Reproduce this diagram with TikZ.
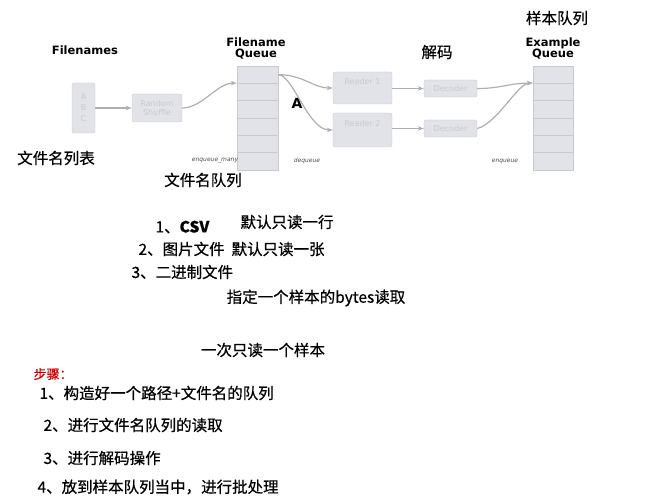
\documentclass[tikz,border=0pt]{standalone}
\usepackage{fontspec}
\setmainfont{DejaVu Sans}
\newfontfamily\cjk[FakeBold=0.6]{Noto Sans CJK SC}
\usetikzlibrary{positioning,arrows.meta}

\definecolor{boxfill}{RGB}{225,227,232}
\definecolor{boxline}{RGB}{200,202,208}
\definecolor{flow}{RGB}{175,175,175}

\begin{document}
\begin{tikzpicture}[x=1pt,y=-1pt,
    block/.style={rectangle, draw=boxline, fill=boxfill, rounded corners=2pt, text=boxline, font=\fontsize{8}{9}\selectfont, align=center, inner sep=0pt},
    cell/.style={rectangle, draw=boxline, fill=boxfill, minimum width=41pt, minimum height=17.3pt, inner sep=0pt},
    head/.style={font=\fontsize{11.5}{11}\bfseries\selectfont, align=center},
    tag/.style={font=\fontsize{6}{6}\itshape\selectfont, text=black!70},
    zh/.style={font=\fontsize{15.5}{16}\cjk\selectfont, anchor=west},
    flowline/.style={draw=flow, line width=1.2pt, -{Stealth[length=6pt]}}
]
\useasboundingbox (0,0) rectangle (645,500);

% Nodes
\node [block, minimum width=23pt, minimum height=50pt] (files) at (83.5,108) {A\\[2pt]B\\[2pt]C};
\node [block, minimum width=50pt, minimum height=28pt] (shuffle) at (157,108) {Random\\Shuffle};
\foreach \i in {1,...,6} {
  \node [cell] (fq\i) at (257.5,66+17.3*\i-8.65) {};
  \node [cell, minimum width=40pt] (eq\i) at (553,66+17.3*\i-8.65) {};
}
\node [block, minimum width=59pt, minimum height=32pt, text depth=14pt] (reader1) at (362.5,88) {Reader 1};
\node [block, minimum width=59pt, minimum height=34pt, text depth=14pt] (reader2) at (362.5,130) {Reader 2};
\node [block, minimum width=53pt, minimum height=17pt] (dec1) at (450.5,88.5) {Decoder};
\node [block, minimum width=53pt, minimum height=17pt] (dec2) at (450.5,128.5) {Decoder};

% Labels
\node [head] (lfiles) at (85,50) {Filenames};
\node [head] (lfq) at (256,48) {Filename\\Queue};
\node [head] (leq) at (553,48) {Example\\Queue};
\node [zh, anchor=center] (ldec) at (437,52) {解码};
\node [zh, anchor=center] (lsample) at (557,18) {样本队列};
\node [font=\fontsize{14}{14}\bfseries\selectfont] (la) at (297,103) {A};
\node [tag] (tmany) at (215,161) {enqueue\_many};
\node [tag] (tdeq) at (307,161) {dequeue};
\node [tag] (tenq) at (505,161) {enqueue};
\node [zh, anchor=center] (lfilelist) at (56,158) {文件名列表};
\node [zh, anchor=center] (lfilequeue) at (203,180) {文件名队列};

% Edges
\draw [flowline] (files.east) -- (shuffle.west);
\draw [flowline] (shuffle.east) .. controls +(20,0) and +(-20,0) .. (fq2.north west);
\draw [flowline] (fq1.east) .. controls +(25,0) and +(-20,0) .. (reader1.west);
\draw [flowline] (fq1.east) .. controls +(15,0) and +(-25,0) .. (reader2.west);
\draw [flowline] (reader1.east |- dec1) -- (dec1.west);
\draw [flowline] (reader2.east |- dec2) -- (dec2.west);
\draw [flowline] (dec1.east) .. controls +(25,0) and +(-25,0) .. (eq2.north west);
\draw [flowline] (dec2.east) .. controls +(20,-5) and +(-15,0) .. (eq2.north west);

% Notes
\node [zh] (n1) at (152,227) {1、\textbf{CSV}};
\node [zh] (n1b) at (237,222) {默认只读一行};
\node [zh] (n2) at (135,249) {2、图片文件\ \ 默认只读一张};
\node [zh] (n3) at (128,272) {3、二进制文件};
\node [zh, anchor=center] (n4) at (316,298) {指定一个样本的bytes读取};
\node [zh, anchor=center] (n5) at (263,350) {一次只读一个样本};
\node [zh, text=red!80!black, font=\fontsize{13}{14}\cjk\selectfont] (steps) at (30,374) {步骤：};
\node [zh] (s1) at (36,393) {1、构造好一个路径+文件名的队列};
\node [zh] (s2) at (40,425) {2、进行文件名队列的读取};
\node [zh] (s3) at (40,458) {3、进行解码操作};
\node [zh] (s4) at (34,487) {4、放到样本队列当中，进行批处理};
\end{tikzpicture}
\end{document}
